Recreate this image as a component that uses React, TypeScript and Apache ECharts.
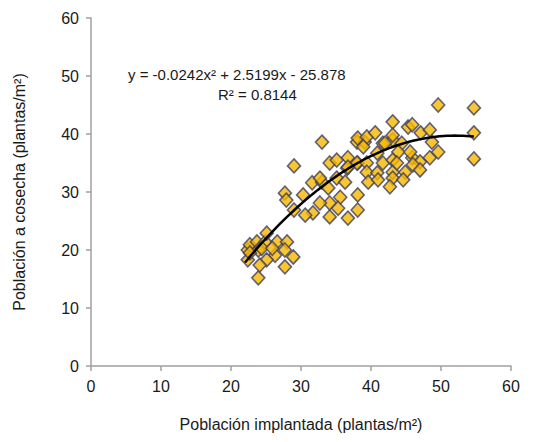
import React, { useEffect, useRef } from "react";
import * as echarts from "echarts";

const xValues = [
  22.4, 22.7, 23.7, 24.9, 25.1, 23.9, 22.4, 26.6, 28.0, 27.7, 28.9, 26.3, 25.1, 24.1, 27.7, 23.9, 22.7, 24.4, 25.9,
  27.7, 27.9, 29.0, 30.3, 31.6, 33.0, 33.9, 29.0, 31.7, 34.1, 34.1, 35.6, 35.3, 30.6, 32.7, 33.0, 34.1, 32.7, 35.1,
  36.6, 38.1, 36.7, 38.1, 38.1, 36.7, 35.1, 36.3, 38.0, 39.1, 38.1, 39.4, 40.6, 41.7, 43.1, 43.1, 43.1, 45.3, 45.9,
  47.1, 48.4, 38.9, 42.0, 44.4, 43.9, 40.9, 38.0, 36.7, 39.4, 41.7, 43.1, 45.9, 48.4, 47.0, 39.4, 40.9, 43.1, 44.9,
  46.0, 47.0, 39.6, 41.0, 43.1, 44.6, 42.7, 48.7, 49.6, 45.6, 49.6, 54.7, 54.7, 54.7, 43.7,
];
const yValues = [
  20.0, 20.9, 21.4, 21.4, 22.9, 20.0, 18.3, 21.4, 21.4, 20.0, 18.8, 19.1, 18.3, 17.4, 17.1, 15.2, 19.5, 20.3, 20.3,
  29.8, 28.6, 34.5, 29.5, 31.6, 31.7, 30.7, 26.9, 26.4, 25.7, 28.1, 29.1, 27.2, 26.0, 28.1, 38.6, 35.0, 32.4, 32.4,
  34.1, 35.0, 25.5, 26.9, 29.5, 35.9, 35.5, 31.7, 38.6, 38.6, 39.3, 39.5, 40.2, 38.4, 39.0, 42.1, 39.8, 41.2, 41.6,
  40.2, 40.7, 37.8, 38.4, 38.4, 36.9, 36.7, 35.0, 34.3, 35.0, 35.0, 35.5, 35.9, 35.9, 35.2, 33.4, 33.3, 33.4, 33.4,
  34.7, 33.8, 31.7, 32.1, 32.4, 32.1, 30.9, 38.6, 36.9, 36.9, 45.0, 44.5, 40.2, 35.7, 35.0,
];

// Regression coefficients shown on the chart: y = a x^2 + b x + c
const fitCoefficients = [-0.0242, 2.5199, -25.878];
const fitRange = [22.0, 54.7];

const xTicks = [0, 10, 20, 30, 40, 50, 60];
const yTicks = [0, 10, 20, 30, 40, 50, 60];

export default function App() {
  const ref = useRef<HTMLDivElement>(null);
  useEffect(() => {
    if (!ref.current) return;
    const chart = echarts.init(ref.current, null, { renderer: "svg" });
    const points = xValues.map((x, i) => [x, yValues[i]]);
    const [a, b, c] = fitCoefficients;
    const fit: number[][] = [];
    const steps = 60;
    for (let i = 0; i <= steps; i++) {
      const x = fitRange[0] + ((fitRange[1] - fitRange[0]) * i) / steps;
      fit.push([x, a * x * x + b * x + c]);
    }
    const font = "Liberation Sans, Arial, sans-serif";
    chart.setOption({
      animation: false,
      backgroundColor: "#ffffff",
      textStyle: { fontFamily: font },
      grid: { left: 91, right: 29, top: 18, bottom: 76 },
      xAxis: {
        type: "value",
        min: xTicks[0],
        max: xTicks[xTicks.length - 1],
        interval: 10,
        name: "Población implantada (plantas/m²)",
        nameLocation: "middle",
        nameGap: 50,
        nameTextStyle: { fontSize: 16, color: "#1a1a1a", fontFamily: font },
        axisLine: { show: true, lineStyle: { color: "#a0a0a0", width: 1.5 } },
        axisTick: { show: true, length: 5, lineStyle: { color: "#a0a0a0", width: 1.5 } },
        axisLabel: { fontSize: 16, color: "#1a1a1a", margin: 12, fontFamily: font },
        splitLine: { show: false },
      },
      yAxis: {
        type: "value",
        min: yTicks[0],
        max: yTicks[yTicks.length - 1],
        interval: 10,
        name: "Población a cosecha (plantas/m²)",
        nameLocation: "middle",
        nameGap: 64,
        nameRotate: 90,
        nameTextStyle: { fontSize: 16, color: "#1a1a1a", fontFamily: font },
        axisLine: { show: true, lineStyle: { color: "#a0a0a0", width: 1.5 } },
        axisTick: { show: true, length: 5, lineStyle: { color: "#a0a0a0", width: 1.5 } },
        axisLabel: { fontSize: 16, color: "#1a1a1a", margin: 12, fontFamily: font },
        splitLine: { show: false },
      },
      series: [
        {
          type: "scatter",
          data: points,
          symbol: "diamond",
          symbolSize: [13, 14],
          itemStyle: { color: "#F7B800", borderColor: "#3d3d5c", borderWidth: 1.6 },
          z: 2,
        },
        {
          type: "line",
          data: fit,
          showSymbol: false,
          smooth: false,
          lineStyle: { color: "#000000", width: 2.5 },
          z: 3,
        },
      ],
      graphic: [
        {
          type: "text",
          left: 128,
          top: 67,
          style: {
            text: "y = -0.0242x² + 2.5199x - 25.878",
            fontSize: 15,
            fill: "#1a1a1a",
            fontFamily: font,
          },
        },
        {
          type: "text",
          left: 218,
          top: 87,
          style: {
            text: "R² = 0.8144",
            fontSize: 15,
            fill: "#1a1a1a",
            fontFamily: font,
          },
        },
      ],
    });
    return () => chart.dispose();
  }, []);
  return <div ref={ref} style={{ width: 540, height: 442, margin: -8 }} />;
}
